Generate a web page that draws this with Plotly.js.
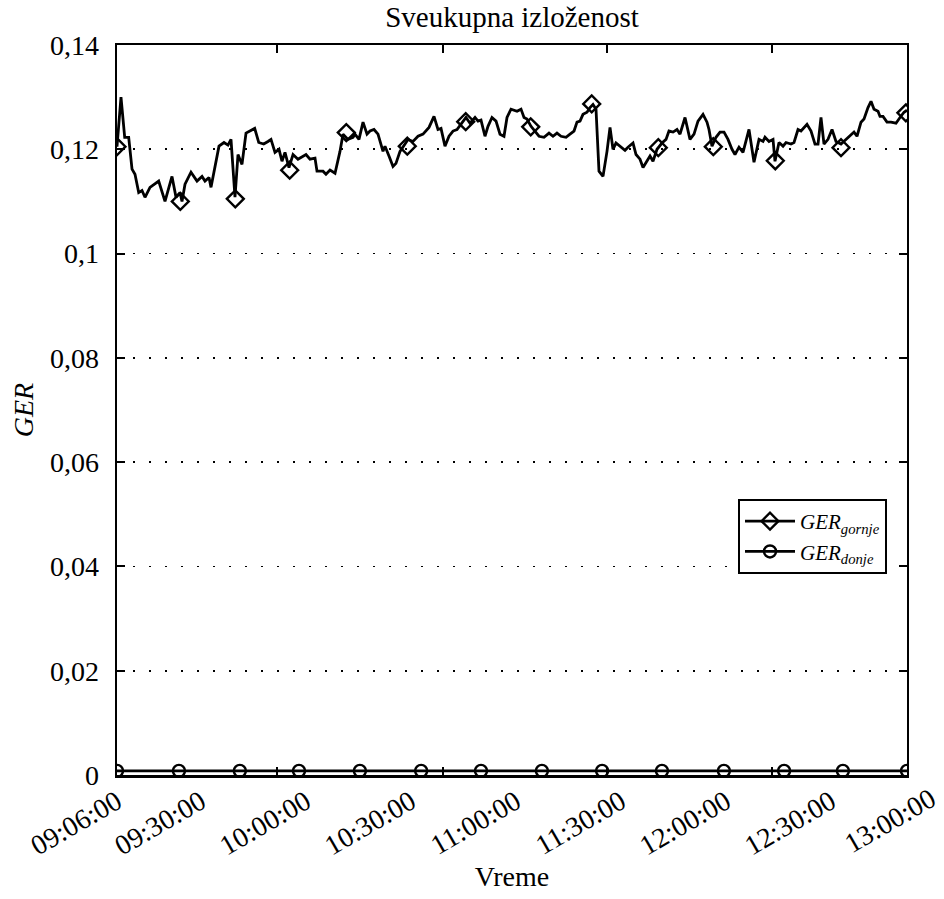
<!DOCTYPE html>
<html><head><meta charset="utf-8">
<script src="https://cdn.plot.ly/plotly-3.0.1.min.js"></script>
<style>html,body{margin:0;padding:0;background:#fff;}#chart{width:944px;height:899px;}</style>
</head><body><div id="chart"></div>
<script>
// Time labels shown under the axis (the last one lies past the end of the data)
const startTime = "09:06:00";
const tickLabels = ["09:06:00","09:30:00","10:00:00","10:30:00","11:00:00","11:30:00","12:00:00","12:30:00","13:00:00"];
// Data: minutes elapsed since 09:06:00
const gornjeMinutes = [0,1.14,2.2,3.34,4.29,5.14,6.2,7.14,8.0,9.43,11.91,13.71,15.71,16.86,18.0,18.57,19.43,21.14,22.86,24.29,25.14,26.29,26.86,29.14,30.57,31.71,32.57,33.71,34.57,35.71,36.86,39.34,40.49,41.91,43.14,44.0,45.14,46.29,47.14,48.0,49.14,50.29,51.71,53.14,54.0,55.14,56.57,57.14,58.86,59.71,60.86,62.29,63.71,64.57,66.0,67.43,68.0,69.14,70.29,71.43,72.29,73.43,74.57,76.0,76.57,77.71,78.86,79.71,80.86,82.29,83.14,84.57,86.0,87.43,89.14,90.57,91.71,92.57,93.71,94.86,96.0,97.14,98.29,99.71,100.86,102.29,103.14,104.0,105.14,106.0,107.14,108.29,109.43,110.57,111.43,112.57,114.29,115.43,116.29,117.14,118.29,119.43,120.57,122.0,123.43,124.57,125.71,126.86,128.29,129.43,130.57,131.43,132.29,133.14,134.29,135.14,136.0,136.86,137.71,138.86,140.0,140.86,141.71,142.57,143.71,145.14,146.0,147.43,148.29,149.43,150.29,151.43,152.29,153.14,154.29,155.71,156.86,157.71,158.86,160.0,160.86,162.29,163.71,164.86,166.0,167.43,168.57,169.14,170.0,171.14,172.29,173.43,174.57,175.71,176.57,177.71,178.86,180.57,182.0,183.43,184.57,185.14,186.29,187.43,188.0,189.14,190.29,191.14,192.57,193.43,194.57,195.43,197.14,198.29,199.43,200.29,201.14,202.0,203.14,204.29,205.43,206.86,208.29,209.71,210.57,211.43,212.57,213.43,214.57,215.43,216.29,217.43,218.0,218.86,220.0,221.14,222.57,223.71,224.86,225.71];
const gornjeValues = [0.1205,0.1300,0.1223,0.1223,0.1162,0.1152,0.1117,0.1121,0.1108,0.1127,0.1139,0.1100,0.1148,0.1108,0.1117,0.1100,0.1133,0.1156,0.1139,0.1148,0.1139,0.1146,0.1127,0.1206,0.1213,0.1208,0.1219,0.1108,0.1190,0.1171,0.1231,0.1240,0.1213,0.1210,0.1215,0.1219,0.1194,0.1200,0.1177,0.1194,0.1165,0.1190,0.1181,0.1187,0.1190,0.1181,0.1183,0.1158,0.1158,0.1152,0.1160,0.1154,0.1196,0.1229,0.1219,0.1223,0.1229,0.1219,0.1252,0.1229,0.1235,0.1238,0.1229,0.1196,0.1206,0.1187,0.1167,0.1173,0.1196,0.1210,0.1219,0.1215,0.1225,0.1229,0.1242,0.1263,0.1238,0.1240,0.1206,0.1225,0.1235,0.1238,0.1248,0.1261,0.1250,0.1261,0.1254,0.1256,0.1225,0.1244,0.1261,0.1254,0.1229,0.1225,0.1261,0.1277,0.1273,0.1277,0.1261,0.1258,0.1244,0.1235,0.1225,0.1223,0.1231,0.1225,0.1231,0.1225,0.1223,0.1229,0.1235,0.1252,0.1254,0.1267,0.1271,0.1280,0.1286,0.1277,0.1158,0.1148,0.1196,0.1242,0.1200,0.1212,0.1206,0.1198,0.1204,0.1212,0.1190,0.1181,0.1165,0.1177,0.1187,0.1177,0.1200,0.1212,0.1219,0.1235,0.1233,0.1238,0.1229,0.1261,0.1219,0.1229,0.1254,0.1267,0.1252,0.1238,0.1206,0.1223,0.1233,0.1233,0.1219,0.1200,0.1190,0.1204,0.1194,0.1238,0.1175,0.1219,0.1215,0.1223,0.1215,0.1219,0.1177,0.1213,0.1206,0.1213,0.1210,0.1213,0.1238,0.1235,0.1248,0.1235,0.1210,0.1210,0.1261,0.1210,0.1219,0.1238,0.1215,0.1210,0.1219,0.1229,0.1233,0.1225,0.1252,0.1258,0.1280,0.1292,0.1277,0.1273,0.1263,0.1263,0.1252,0.1252,0.1250,0.1261,0.1271,0.1275];
const gornjeMarkerMinutes = [0,18.09,33.8,49.34,65.51,82.94,99.63,118.2,135.63,154.66,170.37,188.09,206.86,225.4];
const gornjeMarkerValues = [0.1205,0.1100,0.1105,0.1160,0.1232,0.1206,0.1253,0.1243,0.1287,0.1203,0.1205,0.1178,0.1203,0.1270];
const donjeMinutes = [0,17.7,35.1,52.0,69.4,86.9,104.0,121.4,138.6,155.7,173.4,190.6,207.4,225.71];
const donjeValues = [0.0008,0.0008,0.0008,0.0008,0.0008,0.0008,0.0008,0.0008,0.0008,0.0008,0.0008,0.0008,0.0008,0.0008];
// frame tick marks (minutes since start)
const frameTickMinutes = [45.7, 93.1, 140.0, 187.1];
const yTickValues = [0,0.02,0.04,0.06,0.08,0.1,0.12,0.14];

function toMinutes(s){const p=s.split(':').map(Number);return p[0]*60+p[1]+p[2]/60;}
const t0 = toMinutes(startTime);
const labelMinutes = tickLabels.map(s => toMinutes(s) - t0);
const dataEnd = gornjeMinutes[gornjeMinutes.length-1];
const labelEnd = labelMinutes[labelMinutes.length-1];
const domainEnd = dataEnd / labelEnd;   // fraction of paper width used by the axes box

const inRange = labelMinutes.map(m => m <= dataEnd + 1e-9);
const FONT = "Liberation Serif";
const TS = 28;

const traces = [
  {x: gornjeMinutes, y: gornjeValues, mode:'lines', line:{color:'#000', width:2.8}, showlegend:false, hoverinfo:'skip'},
  {x: gornjeMarkerMinutes, y: gornjeMarkerValues, mode:'markers', marker:{symbol:'diamond-open', size:13, color:'#000', line:{width:2.4, color:'#000'}}, showlegend:false},
  {x: donjeMinutes, y: donjeValues, mode:'lines+markers', line:{color:'#000', width:2.8}, marker:{symbol:'circle-open', size:12, color:'#000', line:{width:2.4, color:'#000'}}, showlegend:false},
  {x:[null], y:[null], xaxis:'x2', mode:'lines+markers', name:'<i>GER<sub>gornje</sub></i>', line:{color:'#000', width:2.8}, marker:{symbol:'diamond-open', size:13, color:'#000', line:{width:2.4,color:'#000'}}},
  {x:[null], y:[null], xaxis:'x2', mode:'lines+markers', name:'<i>GER<sub>donje</sub></i>', line:{color:'#000', width:2.8}, marker:{symbol:'circle-open', size:12, color:'#000', line:{width:2.4,color:'#000'}}}
];

const annotations = [];
labelMinutes.forEach((m,i) => {
  if (!inRange[i]) {
    annotations.push({xref:'paper', yref:'paper', x: m/labelEnd, y: 0, xanchor:'right', yanchor:'top',
      xshift:8, yshift:-4, text: tickLabels[i], textangle:-30, showarrow:false, font:{family:FONT, size:TS, color:'#000'}});
  }
});

const layout = {
  width:944, height:899,
  margin:{l:117, r:8, t:45, b:124},
  paper_bgcolor:'#fff', plot_bgcolor:'#fff',
  separators:',.',
  font:{family:FONT, color:'#000', size:TS},
  title:{text:'Sveukupna izloženost', font:{family:FONT, size:29, color:'#000'}, xref:'paper', x: domainEnd/2, xanchor:'center', yref:'container', y: 1-17/899, yanchor:'middle'},
  xaxis:{domain:[0, domainEnd], range:[0, dataEnd], showgrid:false, zeroline:false,
    showline:true, linecolor:'#000', linewidth:2.5, mirror:'ticks',
    tickvals: frameTickMinutes, showticklabels:false,
    ticks:'inside', ticklen:8, tickwidth:2, tickcolor:'#000'},
  xaxis2:{overlaying:'x', anchor:'y', side:'bottom', range:[0, dataEnd], showgrid:false, zeroline:false, showline:false,
    tickvals: labelMinutes.filter((m,i)=>inRange[i]), ticktext: tickLabels.filter((s,i)=>inRange[i]),
    ticks:'', tickangle:-30, tickfont:{family:FONT, size:TS, color:'#000'}, ticklabelstandoff:4,
    title:{text:'Vreme', font:{family:FONT, size:28, color:'#000'}, standoff:2}},
  yaxis:{range:[0,0.14], tickvals:yTickValues, zeroline:false,
    showline:true, linecolor:'#000', linewidth:2.5, mirror:'ticks',
    ticks:'inside', ticklen:8, tickwidth:2, tickcolor:'#000',
    showgrid:true, gridcolor:'#000', gridwidth:1.6, griddash:'2px,14px',
    ticklabelstandoff:10,
    tickfont:{family:FONT, size:TS, color:'#000'},
    title:{text:'<i>GER</i>', font:{family:FONT, size:28, color:'#000'}, standoff:8}},
  legend:{x: (887-117)/(944-117-8), xanchor:'right', y:(775-499)/730, yanchor:'top',
    bgcolor:'#fff', bordercolor:'#000', borderwidth:2, font:{family:FONT, size:21, color:'#000'},
    itemwidth:50, tracegroupgap:0},
  annotations: annotations,
  showlegend:true
};

Plotly.newPlot('chart', traces, layout, {displayModeBar:false, staticPlot:true});
</script>
</body></html>
